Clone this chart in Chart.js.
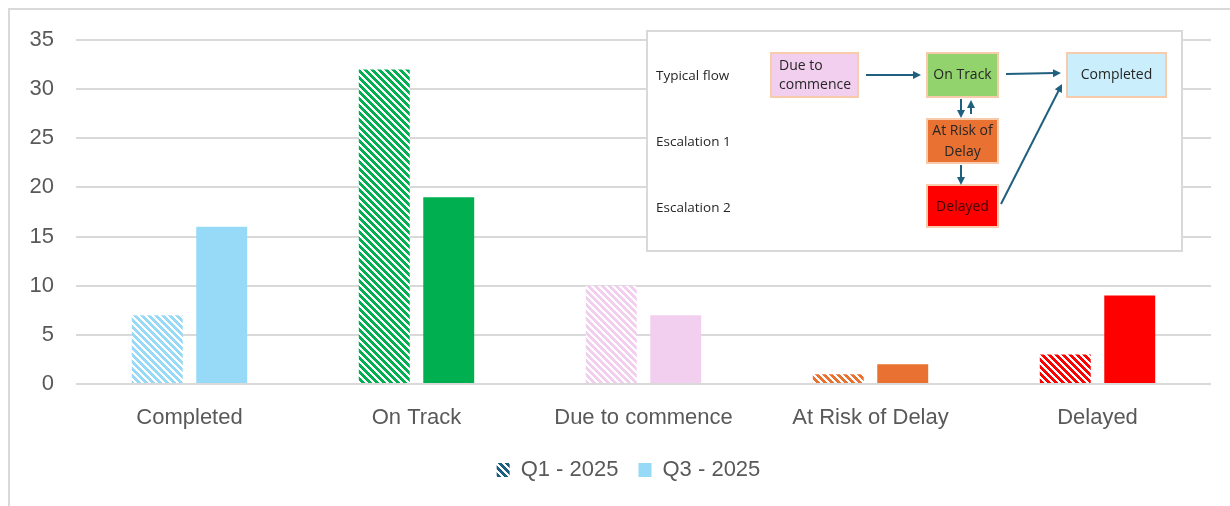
<!DOCTYPE html>
<html><head><meta charset="utf-8">
<script src="https://cdn.jsdelivr.net/npm/chart.js@4.4.1/dist/chart.umd.min.js"></script>
<style>html,body{margin:0;padding:0;background:#fff;} canvas{display:block;}</style>
</head><body>
<canvas id="c" width="1230" height="506"></canvas>
<script>
const categories = ['Completed', 'On Track', 'Due to commence', 'At Risk of Delay', 'Delayed'];
const q1Values = [7, 32, 10, 1, 3];
const q3Values = [16, 19, 7, 2, 9];
const seriesNames = ['Q1 - 2025', 'Q3 - 2025'];
const categoryColors = ['#97DAF7', '#00B050', '#F2CEEF', '#E97132', '#FF0000'];
const yMax = 35;
const yStep = 5;

const canvas = document.getElementById('c');
const ctx0 = canvas.getContext('2d');

function hatch(color) {
  const P = 7;
  const c = document.createElement('canvas');
  c.width = P; c.height = P;
  const g = c.getContext('2d');
  g.fillStyle = '#ffffff';
  g.fillRect(0, 0, P, P);
  g.fillStyle = color;
  for (let y = 0; y < P; y++) for (let x = 0; x < P; x++) {
    if ((((x - y) % P) + P) % P < 4) g.fillRect(x, y, 1, 1);
  }
  return ctx0.createPattern(c, 'repeat');
}

const q1Patterns = categoryColors.map(hatch);
const legendPattern = hatch('#1F5F7E');

const FONT = 'Liberation Sans, Arial, sans-serif';
const TXT = '#595959';

function arrow(ctx, x1, y1, x2, y2) {
  const a = Math.atan2(y2 - y1, x2 - x1);
  const L = 8, W = 4;
  ctx.beginPath();
  ctx.moveTo(x1, y1);
  ctx.lineTo(x2 - Math.cos(a) * L * 0.7, y2 - Math.sin(a) * L * 0.7);
  ctx.stroke();
  ctx.beginPath();
  ctx.moveTo(x2, y2);
  ctx.lineTo(x2 - Math.cos(a) * L - Math.sin(a) * W, y2 - Math.sin(a) * L + Math.cos(a) * W);
  ctx.lineTo(x2 - Math.cos(a) * L + Math.sin(a) * W, y2 - Math.sin(a) * L - Math.cos(a) * W);
  ctx.closePath();
  ctx.fill();
}

function box(ctx, x, y, w, h, fill) {
  ctx.fillStyle = fill;
  ctx.fillRect(x, y, w, h);
  ctx.strokeStyle = '#F8CBAD';
  ctx.lineWidth = 2;
  ctx.strokeRect(x, y, w, h);
}

const framePlugin = {
  id: 'frame',
  afterLayout(chart) {
    if (chart.legend) {
      chart.legend.left += 23;
      chart.legend.right += 23;
    }
  },
  beforeDraw(chart) {
    const ctx = chart.ctx;
    ctx.save();
    ctx.fillStyle = '#ffffff';
    ctx.fillRect(0, 0, chart.width, chart.height);
    ctx.fillStyle = '#D9D9D9';
    ctx.fillRect(8, 8, chart.width - 8, 2);
    ctx.fillRect(8, 8, 2, chart.height - 8);
    ctx.restore();
  },
  afterDraw(chart) {
    const ctx = chart.ctx;
    ctx.save();
    ctx.fillStyle = '#ffffff';
    ctx.fillRect(647, 31, 535, 220);
    ctx.strokeStyle = '#D9D9D9';
    ctx.lineWidth = 2;
    ctx.strokeRect(647, 31, 535, 220);

    ctx.font = '13.5px "Open Sans", sans-serif';
    ctx.textBaseline = 'middle';
    ctx.fillStyle = '#262626';
    ctx.textAlign = 'left';
    ctx.fillText('Typical flow', 656, 76);
    ctx.fillText('Escalation 1', 656, 142);
    ctx.fillText('Escalation 2', 656, 208);

    box(ctx, 771, 53, 87, 44, '#F2CEEF');
    box(ctx, 927, 53, 71, 44, '#92D36E');
    box(ctx, 1067, 53, 99, 44, '#CAEEFB');
    box(ctx, 927, 119, 71, 44, '#E97132');
    box(ctx, 927, 185, 71, 42, '#FF0000');

    ctx.font = '14px "Open Sans", sans-serif';
    ctx.fillStyle = '#262626';
    ctx.textAlign = 'left';
    ctx.fillText('Due to', 779, 66);
    ctx.fillText('commence', 779, 85);
    ctx.textAlign = 'center';
    ctx.fillText('On Track', 962.5, 75);
    ctx.fillText('Completed', 1116.5, 75);
    ctx.fillText('At Risk of', 962.5, 131);
    ctx.fillText('Delay', 962.5, 152);
    ctx.fillStyle = '#3A0A0A';
    ctx.fillText('Delayed', 962.5, 207);

    ctx.strokeStyle = '#20607F';
    ctx.fillStyle = '#20607F';
    ctx.lineWidth = 2;
    arrow(ctx, 866, 75, 921, 75);
    arrow(ctx, 1006, 74, 1061, 73);
    arrow(ctx, 1001, 204, 1062, 84);
    arrow(ctx, 961, 99, 961, 118);
    arrow(ctx, 971, 114, 971, 100);
    arrow(ctx, 961, 165, 961, 185);
    ctx.restore();
  }
};

new Chart(canvas, {
  type: 'bar',
  data: {
    labels: categories,
    datasets: [
      { label: seriesNames[0], data: q1Values, backgroundColor: q1Patterns, borderWidth: 0 },
      { label: seriesNames[1], data: q3Values, backgroundColor: categoryColors, borderWidth: 0 }
    ]
  },
  options: {
    responsive: false,
    animation: false,
    devicePixelRatio: 1,
    layout: { padding: { top: 40, right: 19, bottom: 15, left: 0 } },
    datasets: { bar: { categoryPercentage: 0.568, barPercentage: 0.79 } },
    scales: {
      x: {
        grid: { display: false, drawTicks: false },
        border: { display: false },
        ticks: { color: TXT, font: { family: FONT, size: 22 }, padding: 21, maxRotation: 0 },
        afterFit(s) { s.height = 55; }
      },
      y: {
        min: 0, max: yMax,
        ticks: { stepSize: yStep, color: TXT, font: { family: FONT, size: 22 }, padding: 22 },
        grid: { color: '#D9D9D9', lineWidth: 2, drawTicks: false },
        border: { display: false },
        afterFit(s) { s.width = 76; }
      }
    },
    plugins: {
      tooltip: { enabled: false },
      legend: {
        position: 'bottom',
        labels: {
          color: TXT,
          font: { family: FONT, size: 22 },
          boxWidth: 13,
          boxHeight: 14,
          padding: 20,
          generateLabels() {
            return [
              { text: seriesNames[0], fillStyle: legendPattern, strokeStyle: 'rgba(0,0,0,0)', lineWidth: 0, datasetIndex: 0, fontColor: TXT },
              { text: seriesNames[1], fillStyle: categoryColors[0], strokeStyle: 'rgba(0,0,0,0)', lineWidth: 0, datasetIndex: 1, fontColor: TXT }
            ];
          }
        }
      }
    }
  },
  plugins: [framePlugin]
});
</script>
</body></html>
